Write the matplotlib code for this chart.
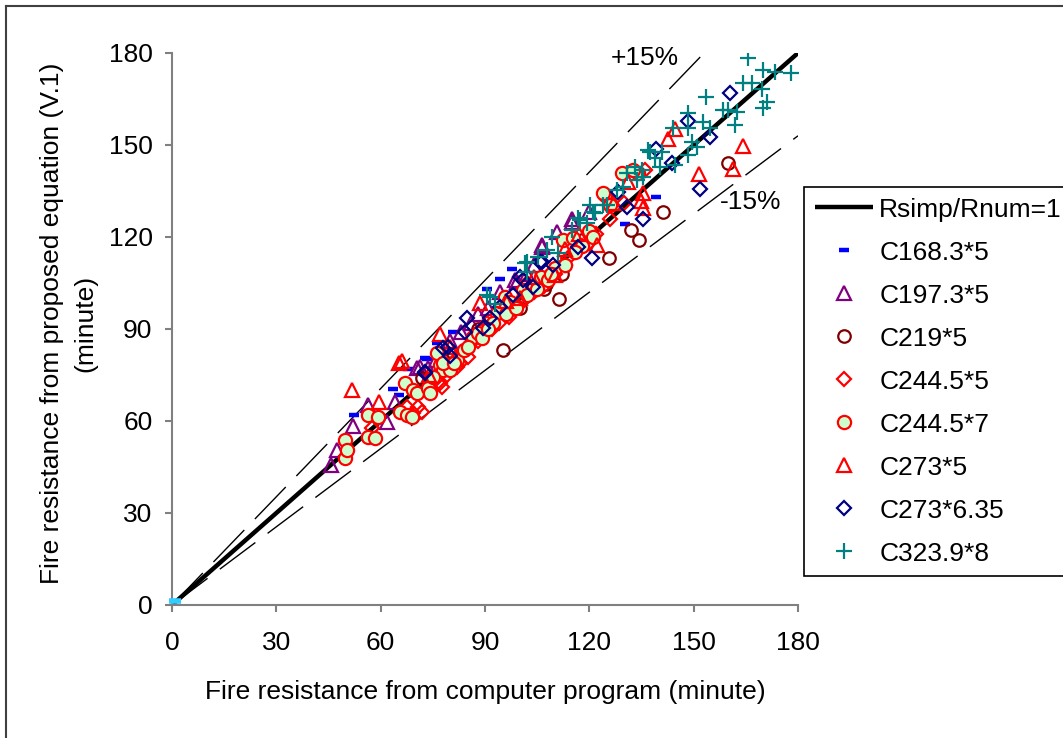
import numpy as np
import matplotlib.pyplot as plt
from matplotlib.lines import Line2D

plt.rcParams['font.family'] = ['Liberation Sans', 'DejaVu Sans']
FS = 19

# reference lines (1:1 and +/-15%)
line_x = [0, 180]
line_y = [0, 180]
upper_x = [0, 153]
upper_y = [0, 180]
lower_x = [0, 180]
lower_y = [0, 153]

# origin marker (not in legend)
origin_x = [1.0]
origin_y = [1.3]

# C168.3*5
c168_x = [52.3, 63.5, 65.3, 67.9, 72.7, 73.3, 76.2, 80.8, 90.6, 94.3, 97.8, 130.3, 139.2]
c168_y = [61.9, 70.4, 68.5, 76.9, 80.5, 80.2, 85.4, 89.0, 103.0, 106.3, 109.6, 124.2, 133.0]

# C197.3*5
c197_x = [45.7, 47.4, 52.0, 56.4, 61.8, 64.1, 70.4, 73.6, 71.3, 76, 80, 83, 88, 94.3, 98.6, 99.2,
          104, 106.4, 106.4, 110.7, 115, 115, 120, 86, 91, 102]
c197_y = [45.6, 50.5, 58.4, 65.2, 59.7, 66.2, 77.3, 77.3, 77.6, 80, 86, 89, 95, 102, 106, 105.3,
          111, 117.4, 116.7, 121.6, 126, 124.9, 128, 92, 97, 108]

# C219*5
c219_x = [72, 78, 88, 95.2, 100, 107, 107.5, 111.3, 112, 118, 125.6, 132, 134.3, 141.2, 159.9]
c219_y = [74, 80, 90, 83.1, 97, 103, 104.7, 99.8, 108, 119, 113.1, 122.3, 119, 128.1, 144.1]

# C244.5*5
c2445_x = [57.5, 67.6, 70.7, 72, 76.5, 77.6, 77.1, 81.9, 82.8, 83.4, 86.3, 89.1, 90.6, 94, 96, 99.2,
           102.1, 105, 108, 111, 114, 118, 122, 126, 130, 136, 69.3, 74.5, 79, 85, 88, 92, 97,
           101, 104, 107, 110, 113, 116, 120]
c2445_y = [57.7, 64.6, 64.6, 63, 72.7, 71.1, 72.4, 77.6, 78.9, 82.5, 85.8, 89.7, 91.9, 92, 95, 97.8,
           105, 103, 106, 110, 113, 117, 121, 126, 131, 142, 62.5, 70, 75, 81, 86, 90, 94,
           99, 102, 104, 108, 111, 115, 118]

# C244.5*7
c2447_x = [49.7, 49.7, 50.3, 56.4, 59.2, 56.4, 58.4, 65.6, 67.6, 69.0, 67.0, 69.3, 70.4, 73.6, 74.2,
           77.1, 80.5, 77.9, 76.2, 75.0, 79.9, 77.9, 82, 84, 86.5, 88.0, 93.4, 92.3, 95.7, 97.2,
           100.9, 104, 106, 108, 110, 112.4, 115.3, 118, 120, 124.5, 125.9, 123.9, 129.4, 134.0, 132.5,
           81, 85, 89, 91, 96, 99, 102, 105, 109, 113, 116, 121]
c2447_y = [53.8, 47.9, 50.5, 61.9, 61.3, 54.8, 54.4, 62.9, 61.9, 61.3, 72.4, 70.1, 69.1, 70.8, 69.1,
           78.3, 78.3, 76.6, 82.2, 74.3, 76.6, 78.9, 80, 83, 87.4, 88.7, 95.2, 91.9, 100.4, 98.8,
           102.7, 104, 107, 106, 110, 119, 119.7, 117, 122, 133.7, 130.4, 134.3, 140.9, 140.9, 141.8,
           79, 84, 87, 90, 95, 97, 101, 103, 108, 111, 115, 120]

# C273*5
c273_x = [51.7, 59.5, 65.3, 66, 77.1, 74, 80, 88.6, 96, 100, 104, 110, 113, 117, 122.2, 127, 131,
          135.4, 135.4, 134.8, 142.6, 144.6, 151.5, 161.3, 164.2]
c273_y = [70.1, 66.2, 78.9, 79.5, 88.4, 75, 84, 98.5, 99, 100, 107, 107.6, 116, 121, 117.4, 131, 138,
          134.3, 129.4, 131.8, 151.9, 155.2, 140.5, 142.2, 149.7]

# C273*6.35
c27363_x = [72.7, 72.7, 77.9, 79.4, 79.9, 84.2, 84.8, 89.4, 91.4, 94.3, 98.0, 100.0, 100.9, 103.8,
            105.8, 106.4, 109.5, 116.7, 120.8, 128.2, 130.8, 135.4, 139.2, 143.8, 148.4, 151.8,
            154.7, 160.4]
c27363_y = [75.6, 76.0, 83.8, 84.1, 81.2, 89.0, 93.6, 90.3, 93.6, 97.2, 101.1, 106.9, 106.0, 103.7,
            111.8, 111.8, 110.9, 116.7, 113.1, 134.7, 129.8, 125.9, 148.7, 144.1, 157.8, 135.6,
            152.6, 166.9]

# C323.9*8
c3239_x = [90.6, 91.4, 93, 101.5, 102, 102, 105.2, 107.8, 109.3, 111, 115, 116.7, 117.3, 119.3, 120.2,
           121, 121.6, 123.9, 125, 127.9, 129.7, 130.8, 133.1, 133.7, 135.1, 135.4, 136.9, 137.4,
           138.9, 140.3, 140.9, 144, 144.6, 148.4, 148.4, 148.4, 149.5, 151, 152.7, 153.5, 154.7,
           158.4, 160, 161.9, 162.4, 164.2, 165.6, 166.8, 169.6, 169.9, 169.9, 171.1, 173.4, 178]
c3239_y = [101.1, 100.4, 98, 111.5, 108.6, 111.8, 113.5, 115.7, 120, 114.8, 122.3, 126.2, 125.5, 124.5,
           130.4, 128.1, 127.8, 130.4, 130.4, 135.3, 136.3, 140.9, 142.8, 138.6, 141.8, 139.6, 148.4,
           147.7, 145.7, 142.8, 147.7, 155.5, 143.5, 160.4, 155.5, 146.7, 151, 149.3, 157.5, 165.6,
           155.5, 161.4, 161.4, 156.5, 160.7, 170.2, 178.3, 170.2, 168.2, 174.4, 162, 164, 173.8, 173.5]

fig = plt.figure(figsize=(10.63, 7.38), dpi=100)
ax = fig.add_axes([172 / 1063, 1 - 605 / 738, 626 / 1063, 552 / 738])

# ratio lines
ax.plot(upper_x, upper_y, color='black', lw=1.0, dashes=(32, 11), zorder=1)
ax.plot(lower_x, lower_y, color='black', lw=1.0, dashes=(32, 11), zorder=1)
ax.plot(line_x, line_y, color='black', lw=3.2, solid_capstyle='butt', zorder=2,
        label='Rsimp/Rnum=1')

ax.plot(origin_x, origin_y, ls='none', marker='_', ms=9, mew=4, color='#33CCFF', zorder=3,
        clip_on=False)

series = [
    (c168_x, c168_y, 'C168.3*5', dict(marker='_', ms=7, mew=3.2, color='#0000FF')),
    (c197_x, c197_y, 'C197.3*5', dict(marker='^', ms=10.5, mew=1.6, mfc='none', mec='#800080')),
    (c219_x, c219_y, 'C219*5', dict(marker='o', ms=9, mew=1.6, mfc='none', mec='#800000')),
    (c2445_x, c2445_y, 'C244.5*5', dict(marker='D', ms=7.5, mew=1.6, mfc='none', mec='#FF0000')),
    (c2447_x, c2447_y, 'C244.5*7', dict(marker='o', ms=9.5, mew=1.6, mfc='#CCFFCC', mec='#FF0000')),
    (c273_x, c273_y, 'C273*5', dict(marker='^', ms=10.5, mew=1.6, mfc='none', mec='#FF0000')),
    (c27363_x, c27363_y, 'C273*6.35', dict(marker='D', ms=7.5, mew=1.6, mfc='none', mec='#000080')),
    (c3239_x, c3239_y, 'C323.9*8', dict(marker='+', ms=12, mew=1.6, color='#008080')),
]
for i, (xs, ys, lab, st) in enumerate(series):
    ax.plot(xs, ys, ls='none', label=lab, zorder=3 + i, **st)

ax.set_xlim(0, 180)
ax.set_ylim(0, 180)
ax.set_xticks(np.arange(0, 181, 30))
ax.set_yticks(np.arange(0, 181, 30))
for s in ['top', 'right']:
    ax.spines[s].set_visible(False)
for s in ['left', 'bottom']:
    ax.spines[s].set_color('#808080')
    ax.spines[s].set_linewidth(1.5)
ax.tick_params(direction='out', length=5, width=1.5, color='#808080', labelsize=FS)
ax.tick_params(axis='x', pad=14)
ax.tick_params(axis='y', pad=9)

ax.text(136, 178.3, '+15%', fontsize=FS, ha='center', va='center')
ax.text(166.5, 131.5, '-15%', fontsize=FS, ha='center', va='center')

ax.set_xlabel('Fire resistance from computer program (minute)', fontsize=FS, va='center')
ax.xaxis.set_label_coords(0.5, -0.157)
ax.set_ylabel('Fire resistance from proposed equation (V.1)\n(minute)', fontsize=FS,
              va='center', linespacing=1.5)
ax.yaxis.set_label_coords(-0.165, 0.51)

leg = ax.legend(loc='upper left', bbox_to_anchor=(804 / 1063, 1 - 187 / 738),
                bbox_transform=fig.transFigure, borderaxespad=0, fontsize=FS,
                frameon=True, fancybox=False, framealpha=1, edgecolor='black',
                handlelength=2.2, handletextpad=0.25, borderpad=0.4, labelspacing=0.72,
                numpoints=1)
leg.get_frame().set_linewidth(1.2)

# outer border (left and top visible)
fig.add_artist(Line2D([5.5 / 1063, 5.5 / 1063], [0, 1 - 5.5 / 738], color='#404040', lw=1.5))
fig.add_artist(Line2D([5.5 / 1063, 1], [1 - 5.5 / 738, 1 - 5.5 / 738], color='#404040', lw=1.5))

fig.savefig('out.png', dpi=100)
